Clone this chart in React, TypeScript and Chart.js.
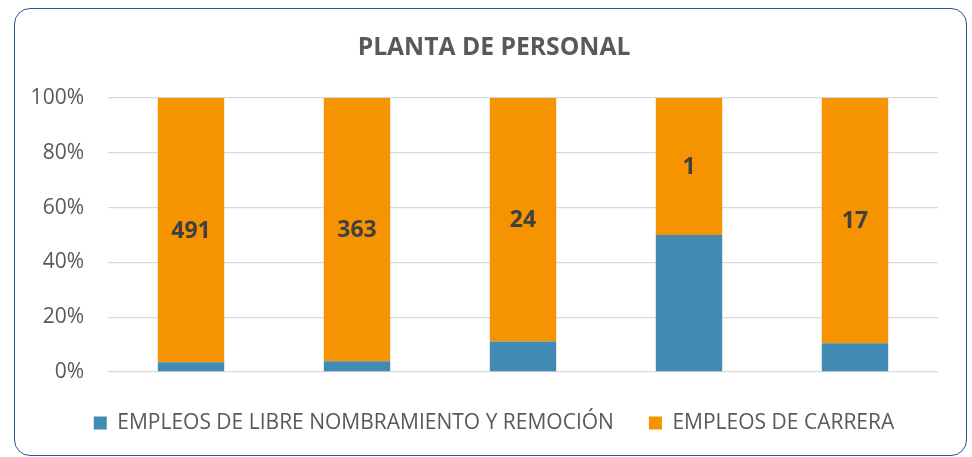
import React, { useEffect, useRef } from "react";
import { Chart, registerables } from "chart.js";

Chart.register(...registerables);

const categories = ["Grupo 1", "Grupo 2", "Grupo 3", "Grupo 4", "Grupo 5"];
const seriesNames = ["EMPLEOS DE LIBRE NOMBRAMIENTO Y REMOCIÓN", "EMPLEOS DE CARRERA"];
const libreNombramiento = [18, 15, 3, 1, 2];
const carrera = [491, 363, 24, 1, 17];
const yTicks = [0, 20, 40, 60, 80, 100];
const title = "PLANTA DE PERSONAL";

const FONT = "'Open Sans', sans-serif";

const toPercent = (a: number[], b: number[]) => a.map((v, i) => (v / (a[i] + b[i])) * 100);

export default function App() {
  const ref = useRef<HTMLCanvasElement | null>(null);

  useEffect(() => {
    if (!ref.current) return;
    const labelPlugin = {
      id: "segmentLabels",
      afterDatasetsDraw(chart: any) {
        const ctx = chart.ctx;
        const meta = chart.getDatasetMeta(1);
        ctx.save();
        ctx.font = `bold 23px ${FONT}`;
        ctx.fillStyle = "#404040";
        ctx.textAlign = "center";
        ctx.textBaseline = "middle";
        meta.data.forEach((el: any, i: number) => {
          const { x, y, base } = el.getProps(["x", "y", "base"], true);
          ctx.fillText(String(carrera[i]), x, (y + base) / 2 + 1);
        });
        ctx.restore();
      },
    };

    const chart = new Chart(ref.current, {
      type: "bar",
      data: {
        labels: categories,
        datasets: [
          {
            label: seriesNames[0],
            data: toPercent(libreNombramiento, carrera),
            backgroundColor: "#418AB3",
            barPercentage: 0.4,
            categoryPercentage: 1,
          },
          {
            label: seriesNames[1],
            data: toPercent(carrera, libreNombramiento),
            backgroundColor: "#F59300",
            barPercentage: 0.4,
            categoryPercentage: 1,
          },
        ],
      },
      options: {
        animation: false,
        responsive: false,
        maintainAspectRatio: false,
        layout: { padding: { left: 16, right: 0, top: 0, bottom: 13.5 } },
        plugins: {
          title: {
            display: true,
            text: title,
            color: "#595959",
            font: { family: FONT, size: 24.7, weight: "bold", lineHeight: 1.2 },
            padding: { top: 33, bottom: 35.4 },
          },
          legend: {
            position: "bottom",
            labels: {
              boxWidth: 13,
              boxHeight: 13,
              padding: 35,
              color: "#595959",
              font: { family: FONT, size: 21 },
            },
          },
          tooltip: { enabled: false },
        },
        scales: {
          x: {
            stacked: true,
            display: true,
            afterFit(scale: any) {
              scale.height = 5.5;
            },
            grid: { display: false },
            ticks: { display: false },
            border: { display: false },
          },
          y: {
            stacked: true,
            min: 0,
            max: 100,
            afterFit(scale: any) {
              scale.width = 92;
            },
            afterBuildTicks(scale: any) {
              scale.ticks = yTicks.map((v) => ({ value: v }));
            },
            ticks: {
              color: "#595959",
              padding: 24,
              font: { family: FONT, size: 21 },
              callback: (v: any) => `${v}%`,
            },
            grid: { color: "#D9D9D9", lineWidth: 1.3, drawTicks: false },
            border: { display: false },
          },
          yRight: {
            type: "linear",
            position: "right",
            display: true,
            afterFit(scale: any) {
              scale.width = 34;
            },
            grid: { display: false },
            ticks: { display: false },
            border: { display: false },
          },
        },
      },
      plugins: [labelPlugin],
    });
    return () => chart.destroy();
  }, []);

  return (
    <div style={{ position: "fixed", left: 0, top: 0, width: 972, height: 457, background: "#fff" }}>
      <div
        style={{
          position: "absolute",
          left: 14,
          top: 8,
          width: 953,
          height: 448,
          boxSizing: "border-box",
          border: "1.5px solid #2F5597",
          borderRadius: 16,
        }}
      />
      <canvas ref={ref} width={972} height={457} style={{ position: "absolute", left: 0, top: 0 }} />
    </div>
  );
}
